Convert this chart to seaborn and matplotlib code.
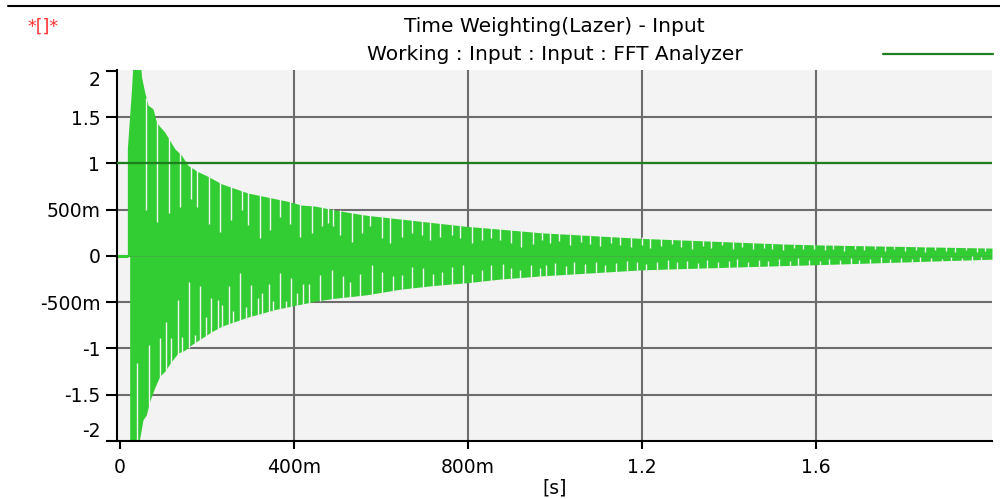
import matplotlib
matplotlib.use("Agg")
import matplotlib.pyplot as plt
from matplotlib.lines import Line2D
import numpy as np
import seaborn as sns

# envelope of the decaying signal (time in s)
up_t = [0.0176, 0.0268, 0.032, 0.046, 0.050, 0.0575, 0.0651, 0.0766, 0.0843, 0.092,
        0.1034, 0.115, 0.1264, 0.1418, 0.157, 0.180, 0.203, 0.234, 0.264, 0.295,
        0.326, 0.356, 0.387, 0.418, 0.448, 0.49, 0.54, 0.567, 0.644, 0.72,
        0.797, 0.874, 0.97, 1.2, 1.52, 1.6, 2.005]
up_v = [1.16, 1.78, 2.2, 2.2, 1.94, 1.77, 1.63, 1.59, 1.45, 1.40,
        1.34, 1.25, 1.16, 1.09, 0.98, 0.91, 0.86, 0.78, 0.73, 0.68,
        0.65, 0.62, 0.59, 0.55, 0.54, 0.50, 0.46, 0.44, 0.40, 0.36,
        0.32, 0.29, 0.25, 0.19, 0.13, 0.12, 0.085]

lo_t = [0.0229, 0.023, 0.038, 0.046, 0.0536, 0.061, 0.069, 0.080, 0.092, 0.103,
        0.119, 0.134, 0.149, 0.165, 0.188, 0.211, 0.234, 0.264, 0.295, 0.326,
        0.356, 0.387, 0.418, 0.448, 0.49, 0.567, 0.644, 0.72, 0.797, 0.874,
        0.97, 1.2, 1.52, 1.6, 2.005]
lo_v = [0.0, -2.2, -2.2, -1.97, -1.77, -1.72, -1.57, -1.43, -1.30, -1.25,
        -1.14, -1.05, -1.02, -0.96, -0.89, -0.82, -0.76, -0.71, -0.66, -0.62,
        -0.58, -0.55, -0.52, -0.49, -0.46, -0.42, -0.36, -0.32, -0.29, -0.25,
        -0.215, -0.15, -0.105, -0.095, -0.035]

# light gaps between the samples (how far they reach toward zero)
gap_up_t = [0.0613, 0.0866, 0.1126, 0.138, 0.163, 0.178, 0.205, 0.230, 0.255, 0.280,
            0.295, 0.322, 0.345, 0.368, 0.391, 0.414, 0.441, 0.466, 0.478, 0.490,
            0.507, 0.533, 0.556, 0.575, 0.602, 0.621, 0.648, 0.671, 0.694, 0.713,
            0.736, 0.763, 0.782, 0.809, 0.832, 0.854, 0.874, 0.900, 0.923, 0.950,
            0.970, 0.99, 1.01, 1.035, 1.06, 1.08, 1.105, 1.13, 1.15, 1.175,
            1.20, 1.22, 1.245, 1.27, 1.29, 1.315, 1.34, 1.36, 1.385, 1.41,
            1.43, 1.455, 1.48, 1.50, 1.525, 1.55, 1.57, 1.595, 1.62, 1.64,
            1.665, 1.69, 1.71, 1.735, 1.76, 1.78, 1.805, 1.83, 1.85, 1.875,
            1.90, 1.92, 1.945, 1.97, 1.99]
gap_up_v = [0.50, 0.37, 0.46, 0.53, 0.62, 0.53, 0.35, 0.26, 0.39, 0.50,
            0.33, 0.19, 0.28, 0.42, 0.35, 0.21, 0.25, 0.32, 0.36, 0.32,
            0.23, 0.15, 0.25, 0.32, 0.19, 0.14, 0.21, 0.25, 0.23, 0.17,
            0.21, 0.23, 0.19, 0.14, 0.17, 0.19, 0.17, 0.14, 0.10, 0.13,
            0.17, 0.14, 0.16, 0.12, 0.15, 0.13, 0.11, 0.14, 0.12, 0.10,
            0.12, 0.09, 0.11, 0.13, 0.10, 0.08, 0.11, 0.09, 0.12, 0.08,
            0.10, 0.07, 0.09, 0.08, 0.06, 0.09, 0.07, 0.08, 0.06, 0.08,
            0.05, 0.07, 0.06, 0.08, 0.05, 0.07, 0.05, 0.06, 0.04, 0.06,
            0.05, 0.04, 0.06, 0.04, 0.05]

gap_lo_t = [0.0406, 0.0667, 0.092, 0.107, 0.117, 0.133, 0.143, 0.159, 0.172, 0.184,
            0.199, 0.211, 0.225, 0.235, 0.251, 0.260, 0.277, 0.291, 0.301, 0.317,
            0.327, 0.343, 0.352, 0.368, 0.383, 0.393, 0.408, 0.421, 0.434, 0.460,
            0.487, 0.513, 0.529, 0.552, 0.579, 0.602, 0.628, 0.648, 0.671, 0.696,
            0.720, 0.740, 0.763, 0.789, 0.809, 0.832, 0.854, 0.881, 0.900, 0.920,
            0.946, 0.966, 0.98, 1.00, 1.025, 1.045, 1.07, 1.095, 1.115, 1.14,
            1.165, 1.19, 1.21, 1.235, 1.26, 1.28, 1.305, 1.33, 1.35, 1.375,
            1.40, 1.42, 1.445, 1.47, 1.49, 1.515, 1.54, 1.56, 1.585, 1.61,
            1.63, 1.655, 1.68, 1.70, 1.725, 1.75, 1.77, 1.795, 1.82, 1.84,
            1.865, 1.89, 1.91, 1.935, 1.96, 1.98]
gap_lo_v = [-1.16, -0.96, -0.89, -0.71, -0.89, -0.48, -0.88, -0.28, -0.85, -0.33,
            -0.66, -0.45, -0.48, -0.53, -0.33, -0.60, -0.18, -0.55, -0.31, -0.45,
            -0.40, -0.30, -0.49, -0.18, -0.49, -0.24, -0.40, -0.30, -0.30, -0.21,
            -0.15, -0.22, -0.28, -0.19, -0.10, -0.17, -0.22, -0.21, -0.12, -0.13,
            -0.19, -0.17, -0.12, -0.10, -0.19, -0.15, -0.10, -0.09, -0.13, -0.15,
            -0.10, -0.13, -0.10, -0.08, -0.11, -0.07, -0.09, -0.06, -0.10, -0.08,
            -0.05, -0.07, -0.09, -0.06, -0.04, -0.07, -0.05, -0.08, -0.04, -0.06,
            -0.05, -0.03, -0.06, -0.04, -0.05, -0.03, -0.05, -0.02, -0.04, -0.05,
            -0.03, -0.04, -0.02, -0.04, -0.03, -0.01, -0.03, -0.02, -0.03, -0.01,
            -0.02, -0.03, -0.01, -0.02, 0.0, -0.01]

# flat part before the hit, and the dark reference line at 1
lead_t = [-0.0062, 0.0176]
lead_v = [0.0, 0.0]
ref_t = [-0.0062, 2.005]
ref_v = [1.0, 1.0]

x_ticks = [0, 0.4, 0.8, 1.2, 1.6]
x_labels = ["0", "400m", "800m", "1.2", "1.6"]
y_ticks = [2, 1.5, 1, 0.5, 0, -0.5, -1, -1.5, -2]
y_labels = ["2", "1.5", "1", "500m", "0", "-500m", "-1", "-1.5", "-2"]

sig_col = "#32cd32"
ref_col = "#1f7f1f"
bg_col = "#f3f3f3"

sns.set_style("white")
plt.rcParams["font.family"] = ["DejaVu Sans"]
plt.rcParams["text.color"] = "black"
plt.rcParams["xtick.color"] = "black"
plt.rcParams["ytick.color"] = "black"

fig, ax = plt.subplots(figsize=(10, 4.99), dpi=100)
fig.subplots_adjust(left=0.117, right=0.992, bottom=1 - 441 / 499, top=1 - 70 / 499)
ax.set_facecolor(bg_col)

ax.fill_between(up_t, 0, up_v, color=sig_col, lw=0, zorder=1)
ax.fill_between(lo_t, lo_v, 0, color=sig_col, lw=0, zorder=1)
sns.lineplot(x=lead_t, y=lead_v, color=sig_col, lw=2.2, ax=ax, zorder=1)

# gaps drawn from the envelope edge inward
ax.vlines(gap_up_t, gap_up_v, np.interp(gap_up_t, up_t, up_v) + 0.01,
          color=bg_col, lw=1.0, zorder=1.5)
ax.vlines(gap_lo_t, np.interp(gap_lo_t, lo_t, lo_v) - 0.01, gap_lo_v,
          color=bg_col, lw=1.0, zorder=1.5)

sns.lineplot(x=ref_t, y=ref_v, color=ref_col, lw=1.6, ax=ax, zorder=3)

ax.set_xlim(-0.0062, 2.005)
ax.set_ylim(-2.0, 2.01)
ax.set_xticks(x_ticks)
ax.set_xticklabels(x_labels)
ax.set_yticks(y_ticks)
ax.set_yticklabels(y_labels)

ax.set_axisbelow(True)
ax.grid(True, color="#6c6c6c", lw=1.5)
for i, gl in enumerate(ax.yaxis.get_gridlines()):
    if y_ticks[i] in (2, -2):
        gl.set_visible(False)
ax.xaxis.get_gridlines()[0].set_visible(False)

for s in ["top", "right"]:
    ax.spines[s].set_visible(False)
for s in ["left", "bottom"]:
    ax.spines[s].set_color("black")
    ax.spines[s].set_linewidth(1.5)

ax.tick_params(axis="y", direction="out", length=8, width=1.5, colors="black",
               labelsize=13.5, pad=4, left=True)
ax.tick_params(axis="x", direction="out", length=6, width=1.5, colors="black",
               labelsize=13.5, pad=6, bottom=True)
ylabs = ax.get_yticklabels()
ylabs[0].set_va("top")
ylabs[-1].set_va("bottom")

fig.text(0.5545, 1 - 27 / 499, "Time Weighting(Lazer) - Input",
         ha="center", va="center", fontsize=14.5)
fig.text(0.5545, 1 - 55 / 499, "Working : Input : Input : FFT Analyzer",
         ha="center", va="center", fontsize=14.5)
fig.text(0.027, 1 - 27 / 499, "*[]*", color="#ff3030", ha="left", va="center", fontsize=12.5)
fig.text(0.555, 1 - 488 / 499, "[s]", ha="center", va="center", fontsize=13.5)

fig.add_artist(Line2D([0.883, 0.993], [1 - 54 / 499] * 2, color=ref_col, lw=1.6,
                      transform=fig.transFigure))
fig.add_artist(Line2D([0.008, 1.0], [1 - 6 / 499] * 2, color="black", lw=1.5,
                      transform=fig.transFigure))

fig.savefig("out.png", dpi=100)
